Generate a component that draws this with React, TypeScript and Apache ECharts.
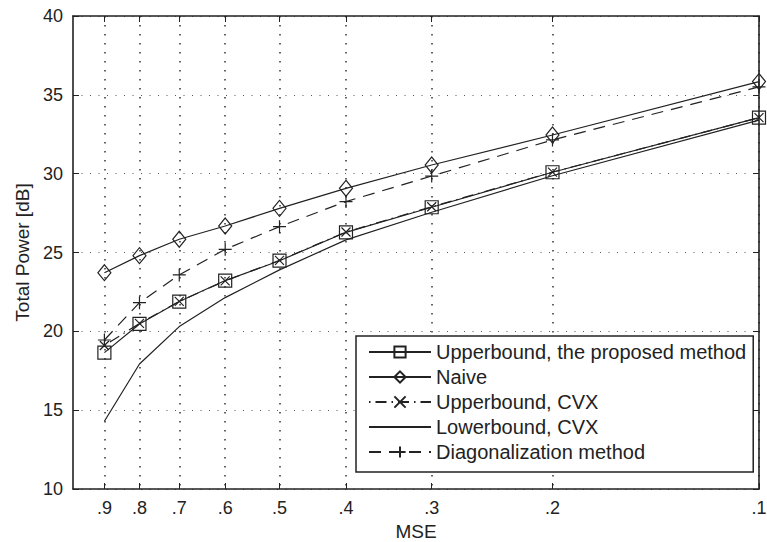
import React, { useEffect, useRef } from "react";
import * as echarts from "echarts";

const mse = [0.9, 0.8, 0.7, 0.6, 0.5, 0.4, 0.3, 0.2, 0.1];
const xTicks = [0.9, 0.8, 0.7, 0.6, 0.5, 0.4, 0.3, 0.2, 0.1];
const yTicks = [10, 15, 20, 25, 30, 35, 40];

const proposed = [18.65, 20.47, 21.89, 23.22, 24.48, 26.28, 27.87, 30.09, 33.55];
const naive = [23.72, 24.8, 25.84, 26.68, 27.8, 29.07, 30.55, 32.45, 35.84];
const cvxUpper = [19.1, 20.5, 21.9, 23.2, 24.5, 26.3, 27.9, 30.1, 33.55];
const cvxLower = [14.3, 17.93, 20.3, 22.14, 23.9, 25.8, 27.55, 29.87, 33.4];
const diagonal = [19.45, 21.82, 23.58, 25.2, 26.64, 28.23, 29.85, 32.14, 35.5];

const names = [
  "Upperbound, the proposed method",
  "Naive",
  "Upperbound, CVX",
  "Lowerbound, CVX",
  "Diagonalization method",
];

const FONT = "'Liberation Sans', Arial, Helvetica, sans-serif";
const INK = "#222";

const pair = (ys: number[]) => mse.map((x, i) => [x, ys[i]]);

export default function App() {
  const ref = useRef<HTMLDivElement>(null);
  useEffect(() => {
    if (!ref.current) return;
    const chart = echarts.init(ref.current, undefined, { renderer: "svg" });
    const mkSeries = (
      name: string,
      data: number[],
      symbol: string,
      symbolSize: any,
      lineType: any
    ) => ({
      name,
      type: "line",
      data: pair(data),
      symbol,
      symbolSize,
      showSymbol: symbol !== "none",
      lineStyle: { color: INK, width: 1.2, type: lineType },
      itemStyle: {
        color: "none",
        borderColor: symbol === "none" ? "none" : INK,
        borderWidth: symbol === "none" ? 0 : 1.2,
      },
      emphasis: { disabled: true },
      z: 3,
    });
    const xBase = {
      type: "log",
      logBase: 10,
      inverse: true,
      min: 0.1,
      max: 1,
      axisLine: { show: true, onZero: false, lineStyle: { color: INK, width: 1.6 } },
      minorTick: { show: false },
      minorSplitLine: { show: false },
    };
    const yBase = {
      type: "value",
      min: 10,
      max: 40,
      interval: 5,
      axisLine: { show: true, onZero: false, lineStyle: { color: INK, width: 1.6 } },
    };
    chart.setOption({
      animation: false,
      backgroundColor: "#fff",
      grid: {
        left: 73,
        top: 16,
        right: 8,
        bottom: 53,
        containLabel: false,
        outerBoundsMode: "none",
      },
      legend: {
        orient: "vertical",
        left: 356,
        top: 336,
        padding: [6, 7, 10, 12],
        itemWidth: 62,
        itemHeight: 14,
        itemGap: 5,
        borderColor: INK,
        borderWidth: 1.5,
        borderRadius: 0,
        backgroundColor: "#fff",
        textStyle: { fontSize: 20, fontFamily: FONT, color: INK },
        data: names,
        selectedMode: false,
      },
      xAxis: [
        {
          ...xBase,
          position: "bottom",
          name: "MSE",
          nameLocation: "middle",
          nameGap: 32,
          nameTextStyle: { fontSize: 19, fontFamily: FONT, color: INK },
          axisTick: { show: true, inside: true, length: 6, customValues: xTicks, lineStyle: { color: INK, width: 1 } },
          axisLabel: {
            customValues: xTicks,
            margin: 10,
            fontSize: 18,
            fontFamily: FONT,
            color: INK,
            formatter: (v: number) => "." + Math.round(v * 10),
          },
          splitLine: { show: true, lineStyle: { color: "#333", width: 1.5, type: [1.5, 7.5] } },
        },
        {
          ...xBase,
          position: "top",
          axisTick: { show: true, inside: true, length: 6, customValues: xTicks, lineStyle: { color: INK, width: 1 } },
          axisLabel: { show: false },
          splitLine: { show: false },
        },
      ],
      yAxis: [
        {
          ...yBase,
          position: "left",
          name: "Total Power [dB]",
          nameLocation: "middle",
          nameGap: 36,
          nameTextStyle: { fontSize: 19, fontFamily: FONT, color: INK },
          axisTick: { show: true, inside: true, length: 6, lineStyle: { color: INK, width: 1 } },
          axisLabel: { margin: 10, fontSize: 18, fontFamily: FONT, color: INK, customValues: yTicks },
          splitLine: { show: true, lineStyle: { color: "#555", width: 1, type: [1, 7.5] } },
        },
        {
          ...yBase,
          position: "right",
          axisTick: { show: true, inside: true, length: 6, lineStyle: { color: INK, width: 1 } },
          axisLabel: { show: false },
          splitLine: { show: false },
        },
      ],
      series: [
        mkSeries(names[0], proposed, "rect", 13, "solid"),
        mkSeries(names[1], naive, "diamond", [13, 16], "solid"),
        mkSeries(names[2], cvxUpper, "path://M0,0L10,10M10,0L0,10", 9, [1.5, 5, 11, 5]),
        mkSeries(names[3], cvxLower, "none", 0, "solid"),
        mkSeries(names[4], diagonal, "path://M5,0L5,10M0,5L10,5", 13, [12, 8]),
      ],
    });
    return () => chart.dispose();
  }, []);
  return (
    <div
      ref={ref}
      style={{ position: "absolute", left: 0, top: 0, width: 767, height: 542 }}
    />
  );
}
